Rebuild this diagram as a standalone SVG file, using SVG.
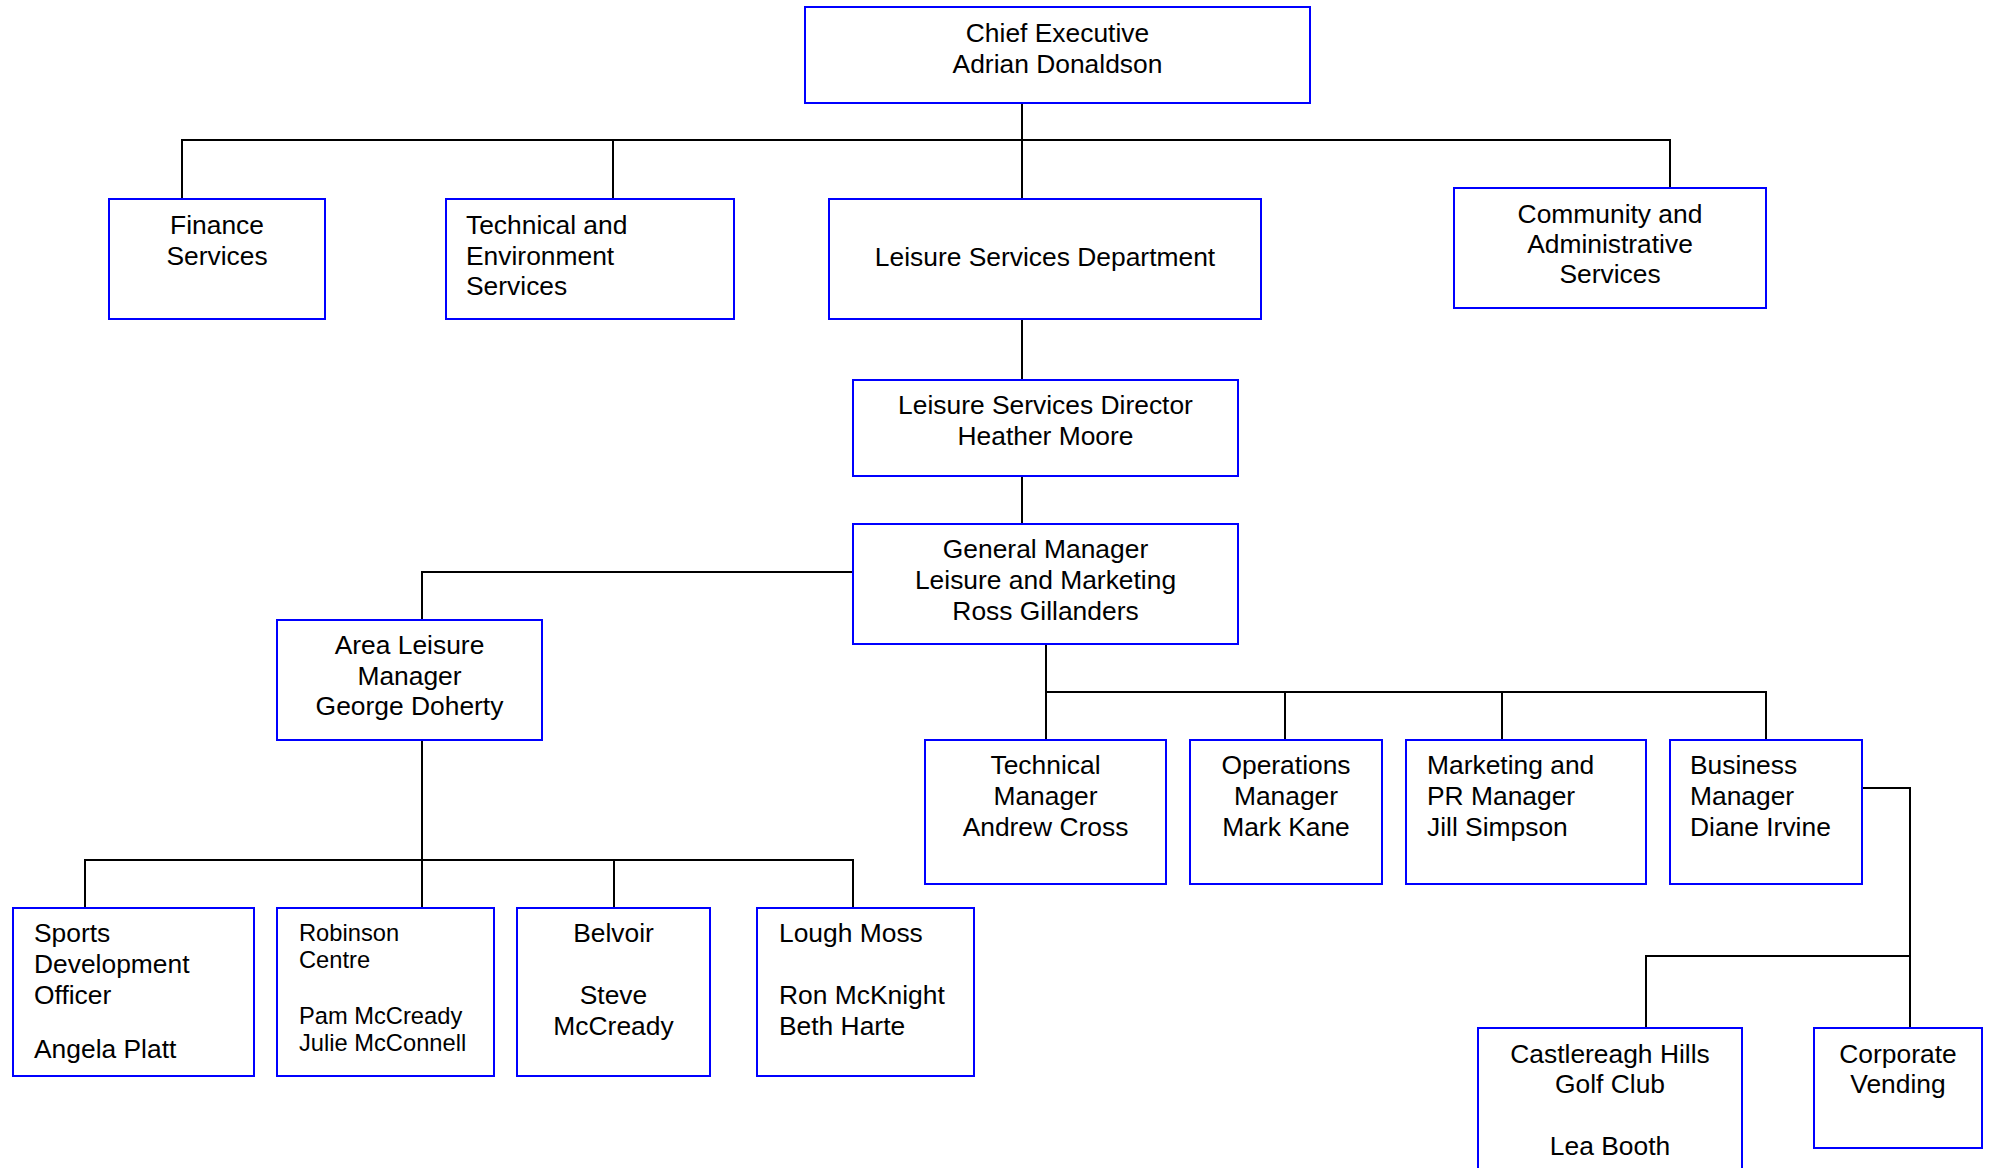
<svg xmlns="http://www.w3.org/2000/svg" width="1991" height="1168" viewBox="0 0 1991 1168">
<style>
.box{fill:#fff;stroke:#0000ff;stroke-width:2}
.t{font-family:"Liberation Sans",Arial,sans-serif;font-size:26.4px;fill:#000}
.c{text-anchor:middle}
.s{font-size:23.7px}
.con{fill:none;stroke:#000;stroke-width:2}
</style>
<rect width="1991" height="1168" fill="#fff"/>
<g id="connectors">
<path class="con" d="M1022 103V199"/>
<path class="con" d="M182 199V140H1670V188"/>
<path class="con" d="M613 140V199"/>
<path class="con" d="M1022 319V380"/>
<path class="con" d="M1022 476V524"/>
<path class="con" d="M853 572H422V620"/>
<path class="con" d="M422 740V908"/>
<path class="con" d="M85 908V860H853V908"/>
<path class="con" d="M614 860V908"/>
<path class="con" d="M1046 644V740"/>
<path class="con" d="M1046 692H1766V740"/>
<path class="con" d="M1285 692V740"/>
<path class="con" d="M1502 692V740"/>
<path class="con" d="M1862 788H1910V1028"/>
<path class="con" d="M1646 1028V956H1910"/>
</g>
<g id="chief"><rect class="box" x="805" y="7" width="505" height="96"/>
<text class="t c" x="1057.5" y="42">Chief Executive</text><text class="t c" x="1057.5" y="73">Adrian Donaldson</text></g>
<g id="finance"><rect class="box" x="109" y="199" width="216" height="120"/>
<text class="t c" x="217" y="234">Finance</text><text class="t c" x="217" y="265">Services</text></g>
<g id="techenv"><rect class="box" x="446" y="199" width="288" height="120"/>
<text class="t" x="466" y="234">Technical and</text><text class="t" x="466" y="265">Environment</text><text class="t" x="466" y="295">Services</text></g>
<g id="lsd"><rect class="box" x="829" y="199" width="432" height="120"/>
<text class="t c" x="1045" y="266">Leisure Services Department</text></g>
<g id="community"><rect class="box" x="1454" y="188" width="312" height="120"/>
<text class="t c" x="1610" y="223">Community and</text><text class="t c" x="1610" y="253">Administrative</text><text class="t c" x="1610" y="283">Services</text></g>
<g id="director"><rect class="box" x="853" y="380" width="385" height="96"/>
<text class="t c" x="1045.5" y="414">Leisure Services Director</text><text class="t c" x="1045.5" y="445">Heather Moore</text></g>
<g id="gm"><rect class="box" x="853" y="524" width="385" height="120"/>
<text class="t c" x="1045.5" y="558">General Manager</text><text class="t c" x="1045.5" y="589">Leisure and Marketing</text><text class="t c" x="1045.5" y="620">Ross Gillanders</text></g>
<g id="area"><rect class="box" x="277" y="620" width="265" height="120"/>
<text class="t c" x="409.5" y="654">Area Leisure</text><text class="t c" x="409.5" y="685">Manager</text><text class="t c" x="409.5" y="715">George Doherty</text></g>
<g id="sports"><rect class="box" x="13" y="908" width="241" height="168"/>
<text class="t" x="34" y="942">Sports</text><text class="t" x="34" y="973">Development</text><text class="t" x="34" y="1004">Officer</text><text class="t" x="34" y="1058">Angela Platt</text></g>
<g id="robinson"><rect class="box" x="277" y="908" width="217" height="168"/>
<text class="t s" x="299" y="941">Robinson</text><text class="t s" x="299" y="968">Centre</text><text class="t s" x="299" y="1024">Pam McCready</text><text class="t s" x="299" y="1051">Julie McConnell</text></g>
<g id="belvoir"><rect class="box" x="517" y="908" width="193" height="168"/>
<text class="t c" x="613.5" y="942">Belvoir</text><text class="t c" x="613.5" y="1004">Steve</text><text class="t c" x="613.5" y="1035">McCready</text></g>
<g id="lough"><rect class="box" x="757" y="908" width="217" height="168"/>
<text class="t" x="779" y="942">Lough Moss</text><text class="t" x="779" y="1004">Ron McKnight</text><text class="t" x="779" y="1035">Beth Harte</text></g>
<g id="techmgr"><rect class="box" x="925" y="740" width="241" height="144"/>
<text class="t c" x="1045.5" y="774">Technical</text><text class="t c" x="1045.5" y="805">Manager</text><text class="t c" x="1045.5" y="836">Andrew Cross</text></g>
<g id="ops"><rect class="box" x="1190" y="740" width="192" height="144"/>
<text class="t c" x="1286" y="774">Operations</text><text class="t c" x="1286" y="805">Manager</text><text class="t c" x="1286" y="836">Mark Kane</text></g>
<g id="marketing"><rect class="box" x="1406" y="740" width="240" height="144"/>
<text class="t" x="1427" y="774">Marketing and</text><text class="t" x="1427" y="805">PR Manager</text><text class="t" x="1427" y="836">Jill Simpson</text></g>
<g id="business"><rect class="box" x="1670" y="740" width="192" height="144"/>
<text class="t" x="1690" y="774">Business</text><text class="t" x="1690" y="805">Manager</text><text class="t" x="1690" y="836">Diane Irvine</text></g>
<g id="castlereagh"><rect class="box" x="1478" y="1028" width="264" height="200"/>
<text class="t c" x="1610" y="1063">Castlereagh Hills</text><text class="t c" x="1610" y="1093">Golf Club</text><text class="t c" x="1610" y="1155">Lea Booth</text></g>
<g id="vending"><rect class="box" x="1814" y="1028" width="168" height="120"/>
<text class="t c" x="1898" y="1063">Corporate</text><text class="t c" x="1898" y="1093">Vending</text></g>
</svg>
